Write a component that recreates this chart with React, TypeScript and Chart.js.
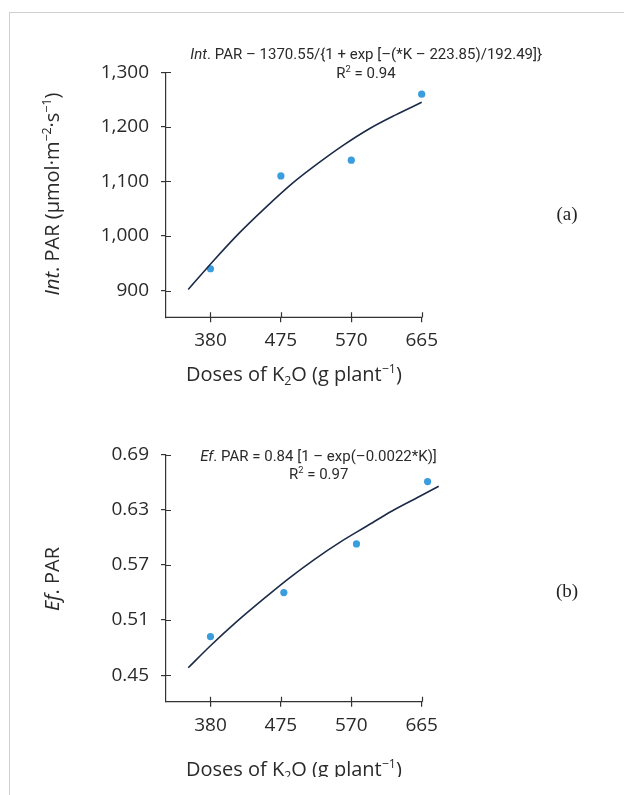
import React, { useEffect, useRef } from "react";
import { Chart, registerables } from "chart.js";

Chart.register(...registerables);

// ---------- data ----------
const doseTicks = [380, 475, 570, 665];

// (a) intercepted PAR
const intDoses = [380, 475, 570, 665];
const intPar = [940, 1110, 1139, 1260];
const intFitDoses = [350, 385, 420, 455, 490, 525, 560, 595, 630, 665];
const intFitValues = [902, 956, 1007, 1053, 1096, 1133, 1167, 1197, 1222, 1245];
const intTicks = [900, 1000, 1100, 1200, 1300];

// (b) efficiency of PAR
const efDoses = [380, 479, 577, 673];
const efPar = [0.492, 0.54, 0.593, 0.661];
const efFitDoses = [350, 380, 415, 450, 485, 520, 555, 590, 625, 660, 688];
const efFitValues = [0.458, 0.482, 0.508, 0.532, 0.555, 0.576, 0.595, 0.612, 0.629, 0.644, 0.656];
const efTicks = [0.45, 0.51, 0.57, 0.63, 0.69];

// ---------- styles ----------
const AXIS = "#333333";
const TEXT = "#2a2a2a";
const DOT = "#3b9ddd";
const LINE = "#1b2b47";
const SANS = '"Open Sans", "Noto Sans", sans-serif';
const EQ = 'Roboto, "Noto Sans", sans-serif';
const SERIF = '"Liberation Serif", "DejaVu Serif", serif';

type Run = { t: string; i?: boolean; sup?: boolean; sub?: boolean };

function setFont(ctx: CanvasRenderingContext2D, r: Run, size: number, family: string) {
  const s = r.sup || r.sub ? size * 0.62 : size;
  ctx.font = `${r.i ? "italic " : ""}${s}px ${family}`;
}

function runsWidth(ctx: CanvasRenderingContext2D, runs: Run[], size: number, family: string) {
  let w = 0;
  for (const r of runs) {
    setFont(ctx, r, size, family);
    w += ctx.measureText(r.t).width;
  }
  return w;
}

function drawRuns(
  ctx: CanvasRenderingContext2D,
  runs: Run[],
  cx: number,
  baseline: number,
  size: number,
  family: string
) {
  const w = runsWidth(ctx, runs, size, family);
  let x = cx - w / 2;
  ctx.textAlign = "left";
  ctx.textBaseline = "alphabetic";
  for (const r of runs) {
    setFont(ctx, r, size, family);
    const dy = r.sup ? -size * 0.38 : r.sub ? size * 0.22 : 0;
    ctx.fillText(r.t, x, baseline + dy);
    x += ctx.measureText(r.t).width;
  }
}

type EqLine = { runs: Run[]; x: number; y: number };

type PanelProps = {
  top: number;
  height: number;
  padTop: number;
  padRight: number;
  xAxisHeight: number;
  xMax: number;
  yMin: number;
  yMax: number;
  yTicks: number[];
  yFormat: (v: number) => string;
  pointsX: number[];
  pointsY: number[];
  fitX: number[];
  fitY: number[];
  eq: EqLine[];
  yTitle: Run[];
  yTitleCenter: number;
  xTitleY: number;
  label: string;
  labelY: number;
};

const xTitleRuns: Run[] = [
  { t: "Doses of K" },
  { t: "2", sub: true },
  { t: "O (g plant" },
  { t: "\u2212", sup: true },
  { t: "1", sup: true },
  { t: ")" },
];

function Panel(p: PanelProps) {
  const ref = useRef<HTMLCanvasElement>(null);
  useEffect(() => {
    const canvas = ref.current!;
    const textPlugin = {
      id: "panelTexts",
      afterDraw(chart: any) {
        const ctx: CanvasRenderingContext2D = chart.ctx;
        const { left, bottom } = chart.chartArea;
        const xs = chart.scales.x;
        const ys = chart.scales.y;
        const axisEnd = xs.getPixelForValue(doseTicks[doseTicks.length - 1]);
        ctx.save();
        ctx.strokeStyle = AXIS;
        ctx.lineWidth = 1.2;
        ctx.beginPath();
        // x axis line, ending at the last tick
        ctx.moveTo(left - 0.6, bottom);
        ctx.lineTo(axisEnd + 0.6, bottom);
        // inner halves of the tick marks (ticks cross the axes)
        for (const t of xs.ticks) {
          const px = Math.round(xs.getPixelForValue(t.value)) + 0.5;
          ctx.moveTo(px, bottom);
          ctx.lineTo(px, bottom - 5);
        }
        for (const t of ys.ticks) {
          const py = Math.round(ys.getPixelForValue(t.value)) + 0.5;
          ctx.moveTo(left, py);
          ctx.lineTo(left + 5, py);
        }
        ctx.stroke();

        ctx.fillStyle = TEXT;
        // equation
        for (const l of p.eq) drawRuns(ctx, l.runs, l.x, l.y, 15, EQ);
        // x title
        drawRuns(ctx, xTitleRuns, (left + axisEnd) / 2, p.xTitleY, 20, SANS);
        // y title
        ctx.save();
        ctx.translate(50.5, p.yTitleCenter);
        ctx.rotate(-Math.PI / 2);
        drawRuns(ctx, p.yTitle, 0, 0, 20, SANS);
        ctx.restore();
        // panel label
        ctx.font = `19px ${SERIF}`;
        ctx.textAlign = "center";
        ctx.textBaseline = "alphabetic";
        ctx.fillStyle = "#222";
        ctx.fillText(p.label, 559, p.labelY);
        ctx.restore();
      },
    };

    const chart = new Chart(canvas, {
      type: "scatter",
      data: {
        datasets: [
          {
            label: "fit",
            data: p.fitX.map((x, i) => ({ x, y: p.fitY[i] })),
            showLine: true,
            borderColor: LINE,
            borderWidth: 1.6,
            pointRadius: 0,
            cubicInterpolationMode: "monotone",
            clip: false,
          } as any,
          {
            label: "observed",
            data: p.pointsX.map((x, i) => ({ x, y: p.pointsY[i] })),
            backgroundColor: DOT,
            borderColor: DOT,
            borderWidth: 0,
            pointRadius: 3.6,
            clip: false,
          } as any,
        ],
      },
      options: {
        responsive: false,
        animation: false,
        devicePixelRatio: 1,
        layout: { padding: { left: 0, top: p.padTop, right: p.padRight, bottom: 0 } },
        plugins: { legend: { display: false }, tooltip: { enabled: false }, title: { display: false } },
        scales: {
          x: {
            type: "linear",
            min: 320,
            max: p.xMax,
            afterBuildTicks: (s: any) => {
              s.ticks = doseTicks.map((v) => ({ value: v }));
            },
            afterFit: (s: any) => {
              s.height = p.xAxisHeight;
            },
            grid: { drawOnChartArea: false, drawTicks: true, tickLength: 5, color: AXIS, lineWidth: 1.2 },
            border: { display: false },
            ticks: {
              font: { family: SANS, size: 19 },
              color: TEXT,
              padding: 7,
              maxRotation: 0,
              autoSkip: false,
              callback: (v: any) => String(v),
            },
          },
          y: {
            type: "linear",
            min: p.yMin,
            max: p.yMax,
            afterBuildTicks: (s: any) => {
              s.ticks = p.yTicks.map((v) => ({ value: v }));
            },
            afterFit: (s: any) => {
              s.width = 158;
            },
            grid: { drawOnChartArea: false, drawTicks: true, tickLength: 5, color: AXIS, lineWidth: 1.2 },
            border: { display: true, color: AXIS, width: 1.2 },
            ticks: {
              font: { family: SANS, size: 19 },
              color: TEXT,
              padding: 12,
              autoSkip: false,
              callback: (v: any) => p.yFormat(Number(v)),
            },
          },
        },
      },
      plugins: [textPlugin],
    });
    return () => chart.destroy();
  }, []);
  return (
    <canvas
      ref={ref}
      width={608}
      height={p.height}
      style={{ position: "absolute", left: 0, top: p.top, width: 608, height: p.height }}
    />
  );
}

export default function App() {
  return (
    <div style={{ position: "relative", width: 608, height: 769 }}>
      <div
        style={{
          position: "fixed",
          left: 9,
          top: 12,
          right: 0,
          bottom: 0,
          borderTop: "1px solid #cfcfcf",
          borderLeft: "1px solid #cfcfcf",
          pointerEvents: "none",
        }}
      />
      <Panel
        top={0}
        height={392}
        padTop={64.3}
        padRight={194.3}
        xAxisHeight={82.7}
        xMax={665}
        yMin={851}
        yMax={1300}
        yTicks={intTicks}
        yFormat={(v) => v.toLocaleString("en-US")}
        pointsX={intDoses}
        pointsY={intPar}
        fitX={intFitDoses}
        fitY={intFitValues}
        eq={[
          {
            runs: [
              { t: "Int", i: true },
              { t: ". PAR \u2013 1370.55/{1 + exp [\u2013(*K \u2013 223.85)/192.49]}" },
            ],
            x: 358.2,
            y: 51.3,
          },
          { runs: [{ t: "R" }, { t: "2", sup: true }, { t: " = 0.94" }], x: 358, y: 69.7 },
        ]}
        yTitle={[
          { t: "Int", i: true },
          { t: ". PAR (\u00b5mol\u00b7m" },
          { t: "\u22122", sup: true },
          { t: "\u00b7s" },
          { t: "\u22121", sup: true },
          { t: ")" },
        ]}
        yTitleCenter={186}
        xTitleY={373}
        label="(a)"
        labelY={212}
      />
      <Panel
        top={392}
        height={377}
        padTop={55}
        padRight={175.8}
        xAxisHeight={75.3}
        xMax={690}
        yMin={0.421}
        yMax={0.69}
        yTicks={efTicks}
        yFormat={(v) => v.toFixed(2)}
        pointsX={efDoses}
        pointsY={efPar}
        fitX={efFitDoses}
        fitY={efFitValues}
        eq={[
          {
            runs: [{ t: "Ef", i: true }, { t: ". PAR = 0.84 [1 \u2013 exp(\u20130.0022*K)]" }],
            x: 310.5,
            y: 60.5,
          },
          { runs: [{ t: "R" }, { t: "2", sup: true }, { t: " = 0.97" }], x: 310.7, y: 79 },
        ]}
        yTitle={[{ t: "Ef", i: true }, { t: ". PAR" }]}
        yTitleCenter={179}
        xTitleY={376}
        label="(b)"
        labelY={197}
      />
    </div>
  );
}
